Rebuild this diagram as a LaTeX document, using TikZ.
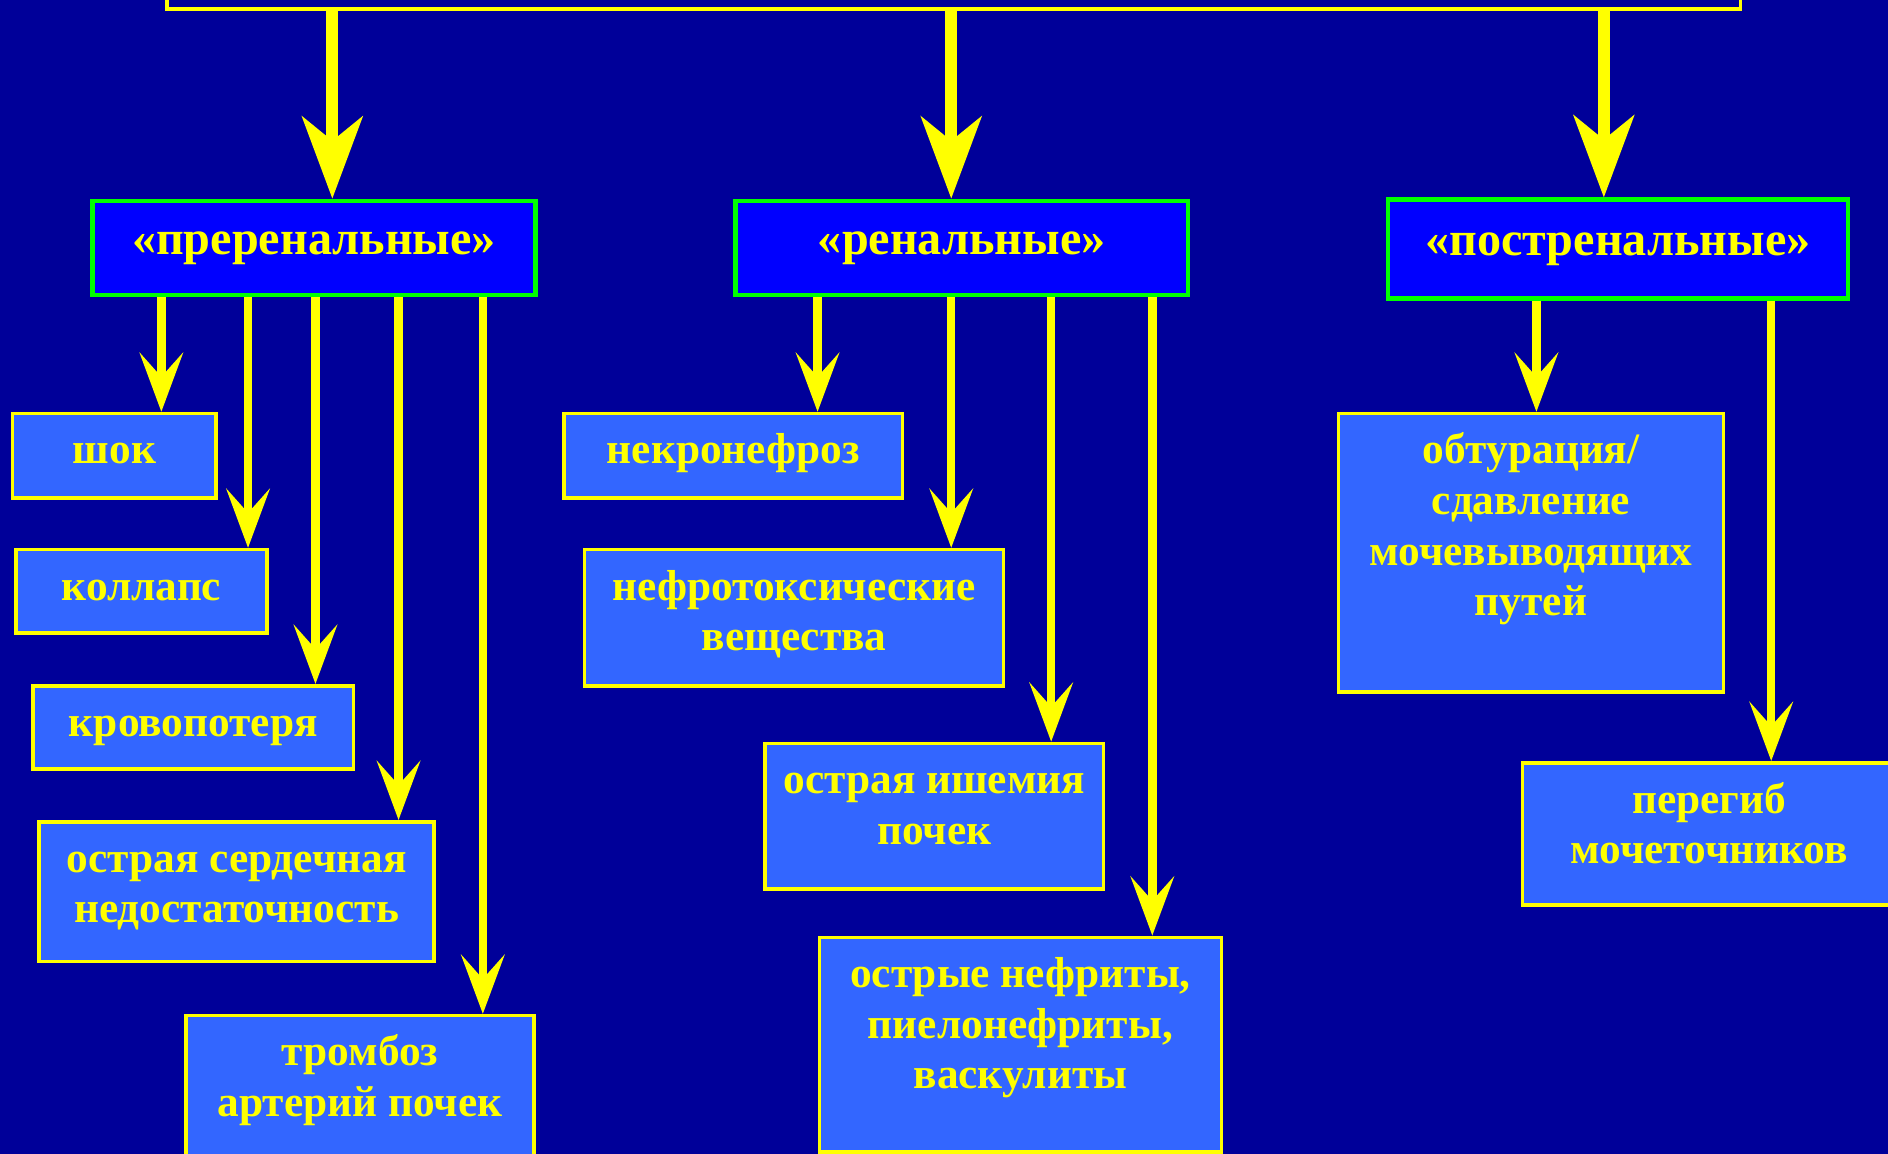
\documentclass[tikz,border=0pt]{standalone}
\usepackage{fontspec}
\setmainfont{Liberation Serif}
\usetikzlibrary{arrows.meta,positioning}
\definecolor{bgblue}{RGB}{0,0,153}
\definecolor{hdrblue}{RGB}{0,0,255}
\definecolor{itemblue}{RGB}{51,102,255}
\definecolor{hdrgreen}{RGB}{0,255,0}
\definecolor{txtyellow}{RGB}{255,255,0}
\tikzset{
  % корневой блок (обрезан сверху)
  rootbox/.style={draw=txtyellow, line width=1.5pt, fill=bgblue, anchor=north west, inner sep=0pt},
  % группы причин
  hdr/.style={
    draw=hdrgreen, line width=1.8pt, fill=hdrblue,
    anchor=north west, inner sep=0pt,
    text=txtyellow, font=\bfseries\fontsize{20}{24}\selectfont
  },
  % отдельные причины
  item/.style={draw=txtyellow, line width=1.5pt, fill=itemblue, anchor=north west, inner sep=0pt},
  itemtxt/.style={
    anchor=north, inner sep=0pt, yshift=-6.75pt, align=center,
    text=txtyellow, font=\bfseries\fontsize{18}{21}\selectfont
  },
  % стрелки
  bigarr/.style={-{Stealth[length=34pt, width=25pt, inset=10pt]}, line width=5pt, txtyellow},
  arr/.style={-{Stealth[length=24.5pt, width=18pt, inset=10pt]}, line width=3.5pt, txtyellow},
}
\begin{document}
\begin{tikzpicture}[x=0.5pt, y=-0.5pt]
  \fill[bgblue] (0,0) rectangle (1568,958);
  \useasboundingbox (0,0) rectangle (1568,958);

  % верхний блок
  \node[rootbox, minimum width=653.5pt, minimum height=23pt] (root) at (137,-40) {};

  % три группы
  \node[hdr, minimum width=184pt, minimum height=39pt] (pre) at (75,165) {«преренальные»};
  \node[hdr, minimum width=188pt, minimum height=39pt] (ren) at (609,165) {«ренальные»};
  \node[hdr, minimum width=191pt, minimum height=41pt] (post) at (1151,164) {«постренальные»};

  % преренальные
  \node[item, minimum width=84.5pt, minimum height=35pt, label={[itemtxt]north:{\strut шок}}] (shok) at (9,342) {};
  \node[item, minimum width=104pt, minimum height=34.5pt, label={[itemtxt]north:{\strut коллапс}}] (kollaps) at (12,455) {};
  \node[item, minimum width=133pt, minimum height=34.5pt, label={[itemtxt]north:{\strut кровопотеря}}] (krovo) at (26,568) {};
  \node[item, minimum width=164pt, minimum height=58pt,
    label={[itemtxt]north:{\strut острая сердечная\\недостаточность}}] (serd) at (31,681) {};
  \node[item, minimum width=144.5pt, minimum height=65pt,
    label={[itemtxt]north:{\strut тромбоз\\артерий почек}}] (tromb) at (153,842) {};

  % ренальные
  \node[item, minimum width=140.5pt, minimum height=35pt, label={[itemtxt]north:{\strut некронефроз}}] (nekro) at (467,342) {};
  \node[item, minimum width=174pt, minimum height=56.5pt,
    label={[itemtxt]north:{\strut нефротоксические\\вещества}}] (toks) at (484,455) {};
  \node[item, minimum width=140.5pt, minimum height=60.5pt,
    label={[itemtxt]north:{\strut острая ишемия\\почек}}] (ishem) at (634,616) {};
  \node[item, minimum width=167pt, minimum height=89pt,
    label={[itemtxt]north:{\strut острые нефриты,\\пиелонефриты,\\васкулиты}}] (nefrit) at (679,777) {};

  % постренальные
  \node[item, minimum width=160pt, minimum height=115.5pt,
    label={[itemtxt]north:{\strut обтурация/\\сдавление\\мочевыводящих\\путей}}] (obtur) at (1110,342) {};
  \node[item, minimum width=155pt, minimum height=59pt,
    label={[itemtxt]north:{\strut перегиб\\мочеточников}}] (peregib) at (1263,632) {};

  % стрелки от верхнего блока
  \foreach \x/\n in {276/pre, 790/ren, 1332/post}
    \draw[bigarr] (\x,0 |- root.south) -- (\x,0 |- \n.north);

  % стрелки к причинам
  \foreach \x/\n in {134/shok, 206/kollaps, 262/krovo, 331/serd, 401/tromb}
    \draw[arr] (\x,0 |- pre.south) -- (\x,0 |- \n.north);
  \foreach \x/\n in {679/nekro, 790/toks, 873/ishem, 957/nefrit}
    \draw[arr] (\x,0 |- ren.south) -- (\x,0 |- \n.north);
  \foreach \x/\n in {1276/obtur, 1471/peregib}
    \draw[arr] (\x,0 |- post.south) -- (\x,0 |- \n.north);
\end{tikzpicture}
\end{document}
